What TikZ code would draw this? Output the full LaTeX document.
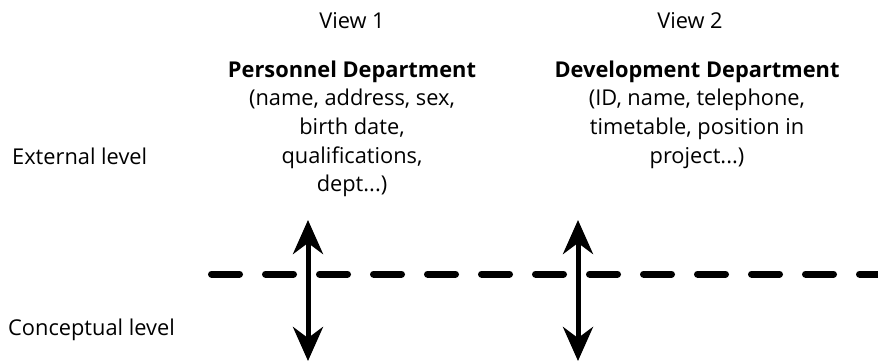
\documentclass[tikz,border=0pt]{standalone}
\usepackage{fontspec}
\setmainfont{Open Sans}
\usetikzlibrary{arrows.meta}
\begin{document}
\begin{tikzpicture}[x=1pt,y=-1pt,
  lbl/.style={font=\fontsize{21.8}{28.7}\selectfont, inner sep=0pt, align=center},
  levelline/.style={line width=7pt, line cap=round, dash pattern=on 28pt off 26pt},
  maparrow/.style={line width=5pt, {Stealth[length=34pt,width=30pt,inset=11pt]}-{Stealth[length=34pt,width=30pt,inset=11pt]}}]
\useasboundingbox (0,0) rectangle (878,361);
% view headings
\node[lbl, anchor=base] (v1) at (352,29) {View 1};
\node[lbl, anchor=base] (v2) at (690,29) {View 2};
% view contents (base anchor = baseline of the last line)
\node[lbl, anchor=base] (p1) at (352,191.8) {\textbf{Personnel Department}\\(name, address, sex,\\birth date,\\qualifications,\\dept...)};
\node[lbl, anchor=base] (p2) at (697,163.1) {\textbf{Development Department}\\(ID, name, telephone,\\timetable, position in\\project...)};
% level names
\node[lbl, anchor=base west] (ext) at (12,164) {External level};
\node[lbl, anchor=base west] (con) at (8,335) {Conceptual level};
% dividing line between levels
\coordinate (dl) at (211.5,274);
\coordinate (dr) at (900,274);
\draw[levelline] (dl) -- (dr);
% mappings between levels
\coordinate (a1t) at (308,220);
\coordinate (a1b) at (308,361);
\coordinate (a2t) at (578,220);
\coordinate (a2b) at (578,361);
\draw[maparrow] (a1b) -- (a1t);
\draw[maparrow] (a2b) -- (a2t);
\end{tikzpicture}
\end{document}
